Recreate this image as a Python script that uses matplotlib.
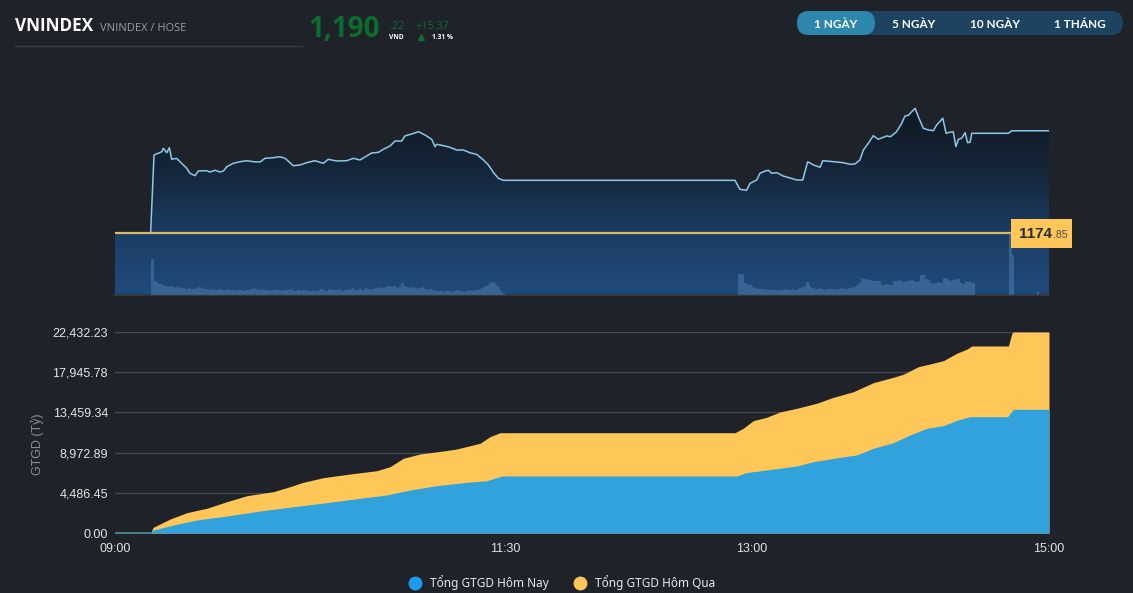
import numpy as np
import matplotlib
matplotlib.use("Agg")
import matplotlib.pyplot as plt
from matplotlib.patches import FancyBboxPatch, Rectangle, PathPatch
from matplotlib.path import Path
from matplotlib.lines import Line2D
from matplotlib.colors import LinearSegmentedColormap
from matplotlib.transforms import IdentityTransform

# ---------------- data ----------------
# time in minutes after 09:00
REF_PRICE = 1174.85
price_t = [13.7, 15.0, 18.0, 18.6, 19.9, 20.9, 21.8, 23.7, 25.6, 27.6,
           28.8, 30.8, 32.0, 35.3, 36.5, 38.5, 40.4, 41.7, 43.0, 45.5,
           48.1, 50.7, 53.2, 55.8, 57.7, 60.9, 63.5, 65.4, 68.6, 71.2,
           73.7, 76.9, 80.1, 82.0, 85.3, 89.1, 91.7, 94.2, 96.8, 98.7,
           101.3, 103.2, 105.8, 107.7, 110.3, 111.5, 114.1, 116.7, 119.2, 121.8,
           123.1, 123.7, 126.3, 128.8, 131.4, 134.0, 136.5, 139.1, 141.7, 143.6,
           145.5, 147.4, 149.3,
           233.8, 235.6, 238.0, 239.3, 241.9, 243.2, 245.3, 246.6, 248.0, 250.0,
           252.6, 255.4, 258.1, 260.5, 262.5, 264.8, 267.5, 268.6, 271.5, 274.2,
           276.9, 279.6, 281.6, 283.6, 285.0, 287.0, 289.0, 291.0, 294.4, 296.0,
           298.4, 300.5, 301.8, 303.2, 304.5, 305.9, 307.2, 309.2, 311.3, 313.3,
           314.6, 317.1, 318.4, 320.0, 321.3, 322.4, 323.4, 324.7, 326.1, 327.1,
           328.1, 328.8, 343.6, 345.0, 360.0]
price_v = [1174.85, 1186.58, 1187.07, 1187.59, 1186.92, 1187.68, 1185.93, 1186.08, 1185.33, 1184.58,
           1183.83, 1183.47, 1184.17, 1184.22, 1184.02, 1184.28, 1184.02, 1184.17, 1184.82, 1185.33,
           1185.57, 1185.72, 1185.57, 1185.53, 1186.08, 1186.17, 1186.32, 1186.08, 1184.97, 1185.08,
           1185.42, 1185.72, 1185.33, 1185.93, 1185.68, 1185.72, 1186.08, 1185.83, 1186.43, 1186.88,
           1186.98, 1187.44, 1187.93, 1188.68, 1188.68, 1189.44, 1189.74, 1190.08, 1189.59, 1188.94,
           1187.83, 1188.19, 1187.98, 1187.74, 1187.33, 1187.33, 1186.92, 1186.68, 1185.83, 1185.08,
           1183.98, 1183.08, 1182.77,
           1182.77, 1181.42, 1181.27, 1182.32, 1182.82, 1183.83, 1184.17, 1184.28, 1183.83, 1183.92,
           1183.42, 1183.12, 1182.82, 1182.82, 1185.57, 1185.08, 1184.73, 1185.72, 1185.63, 1185.53,
           1185.42, 1185.18, 1185.23, 1185.83, 1187.33, 1188.34, 1189.48, 1188.94, 1189.44, 1189.33,
           1190.08, 1191.35, 1192.44, 1192.55, 1193.09, 1193.60, 1192.34, 1190.59, 1190.34, 1190.23,
           1191.09, 1192.10, 1189.84, 1190.00, 1190.08, 1187.83, 1188.94, 1189.09, 1189.93, 1188.43,
           1188.49, 1189.84, 1189.84, 1190.22, 1190.22]

# per-minute volume (relative units)
vol_am_start = 14
vol_am = [36,
          14, 12, 11, 10, 9, 8, 9, 8, 7, 8,
          7, 7, 6, 7, 6, 6, 7, 8, 7, 6,
          6, 5, 6, 5, 5, 6, 5, 5, 6, 5,
          5, 4, 5, 5, 4, 5, 5, 6, 7, 6,
          5, 6, 5, 5, 4, 5, 6, 5, 5, 4,
          5, 5, 6, 5, 4, 5, 4, 5, 5, 4,
          4, 5, 4, 5, 6, 5, 4, 6, 5, 5,
          5, 6, 4, 5, 5, 6, 7, 5, 5, 6,
          5, 7, 6, 5, 6, 7, 8, 7, 6, 8,
          9, 8, 9, 7, 8, 12, 9, 8, 7, 8,
          7, 6, 7, 8, 6, 5, 6, 5, 4, 4,
          4, 3, 4, 4, 3, 4, 5, 4, 4, 3,
          4, 5, 4, 5, 5, 6, 7, 9, 10, 12,
          13, 11, 8, 4, 2]
vol_pm_start = 235
vol_pm = [21, 21, 12, 10, 10, 8, 7, 6, 6, 6,
          5, 6, 5, 5, 5, 4, 5, 5, 6, 5,
          5, 6, 5, 6, 7, 8, 9,
          13, 9, 7, 6, 6, 7, 6, 5, 6, 6,
          6, 5, 6, 6, 7, 6, 6, 7, 7, 8,
          9, 12, 17, 16, 16, 15, 15, 14, 14, 14,
          10, 10, 11, 10, 10, 14, 14, 15, 14, 13,
          14, 14, 15, 14, 13, 14, 20, 20, 16, 15,
          12, 11, 12, 13, 12, 17, 17, 15, 14, 15,
          16, 16, 12, 11, 14, 13, 13, 12]
vol_close_t = [344, 345, 355]
vol_close = [62, 40, 3]

# cumulative trading value (ty VND)
yest_t = [0, 13.7, 14.7, 21.2, 27.6, 35.3, 43.0, 50.7, 60.9, 67.3,
          72.4, 80.1, 90.4, 100.7, 105.8, 110.9, 117.3, 126.3, 131.4, 140.4,
          144.2, 148.1, 233.8, 236.8, 240.5, 245.9, 251.3, 258.1, 266.1, 272.9,
          281.0, 289.0, 297.1, 301.1, 307.2, 311.9, 317.3, 322.7, 326.7, 328.8,
          343.6, 345.0, 345.6, 360]
yest_v = [0, 0, 636, 1562, 2266, 2757, 3493, 4163, 4609, 5167,
          5658, 6172, 6584, 6953, 7399, 8337, 8817, 9151, 9374, 10011,
          10747, 11194, 11194, 11685, 12533, 12912, 13504, 13917, 14475, 15145,
          15770, 16774, 17377, 17712, 18560, 18861, 19229, 20055, 20501, 20870,
          20870, 22286, 22432.23, 22432.23]
today_t = [0, 13.7, 14.7, 23.7, 31.4, 43.0, 55.8, 68.6, 81.4, 94.2,
           104.5, 113.5, 123.7, 134.0, 143.0, 148.7, 234.6, 237.7, 245.9, 258.1,
           264.8, 275.6, 282.3, 289.0, 297.1, 303.8, 310.6, 317.3, 324.0, 328.1,
           343.3, 345.6, 360]
today_v = [0, 0, 335, 971, 1451, 1897, 2455, 2935, 3382, 3873,
           4241, 4799, 5279, 5614, 5837, 6361, 6361, 6730, 7031, 7477,
           7957, 8449, 8705, 9453, 10078, 10937, 11685, 11976, 12690, 12981,
           12981, 13806, 13806]

yticks = [0.00, 4486.45, 8972.89, 13459.34, 17945.78, 22432.23]
ytick_labels = ['0.00', '4,486.45', '8,972.89', '13,459.34', '17,945.78', '22,432.23']
xticks = [0, 150, 240, 360]
xtick_labels = ['09:00', '11:30', '13:00', '15:00']
legend_labels = ['Tổng GTGD Hôm Nay', 'Tổng GTGD Hôm Qua']
buttons = ['1 NGÀY', '5 NGÀY', '10 NGÀY', '1 THÁNG']

# ---------------- figure ----------------
plt.rcParams['font.family'] = ['Liberation Sans', 'DejaVu Sans']
W, H = 1133, 593
fig = plt.figure(figsize=(W / 100, H / 100), dpi=100)
BG = '#1f2229'
fig.patch.set_facecolor(BG)
IT = IdentityTransform()


def rect(l, t, r, b):
    return [l / W, 1 - b / H, (r - l) / W, (b - t) / H]


def ptext(x, y, s, **kw):
    return fig.text(x, H - y, s, transform=IT, **kw)


TK = [0, 150, 240, 360]
PK = [0, 390, 637, 934]


def fwd(x):
    return np.interp(x, TK, PK)


def inv(p):
    return np.interp(p, PK, TK)


# ---- top price panel ----
YLO, YHI = 1165.53, 1195.6
ax1 = fig.add_axes(rect(115, 95, 1049, 295))
ax1.set_facecolor('none')
ax1.set_xscale('function', functions=(fwd, inv))
cmap = LinearSegmentedColormap.from_list('g', [(0.0, '#1f4b7b'), (0.31, '#1b3d63'),
                                               (0.6, '#15273c'), (1.0, '#0f141b')])
verts = [(0, YLO), (0, REF_PRICE)] + list(zip(price_t, price_v)) + [(360, YLO), (0, YLO)]
clip = PathPatch(Path(verts), transform=ax1.transData, fc='none', ec='none')
ax1.add_patch(clip)
grad = np.linspace(0, 1, 256).reshape(-1, 1)
im = ax1.imshow(grad, extent=[0, 360, YLO, YHI], origin='lower', aspect='auto',
                cmap=cmap, zorder=0, interpolation='bilinear')
im.set_clip_path(clip)
ax1.plot(price_t, price_v, color='#8cc8e8', lw=1.1, zorder=3)
ax1.axhline(REF_PRICE, color='#d9bd6a', lw=1.6, zorder=4)
ax1.set_xlim(0, 360)
ax1.set_ylim(YLO, YHI)
for s in ['top', 'left', 'right']:
    ax1.spines[s].set_visible(False)
ax1.spines['bottom'].set_color('#33373e')
ax1.spines['bottom'].set_linewidth(1.5)
ax1.set_xticks([])
ax1.set_yticks([])

ax1v = ax1.twinx()
ax1v.set_ylim(0, 200)
am_t = np.arange(vol_am_start, vol_am_start + len(vol_am))
pm_t = np.arange(vol_pm_start, vol_pm_start + len(vol_pm))
for tt, vv in [(am_t, vol_am), (pm_t, vol_pm), (vol_close_t, vol_close)]:
    ax1v.bar(tt, vv, width=1.0, align='edge', color='#4f80b0', alpha=0.5, lw=0,
             antialiased=False)
ax1v.set_xlim(0, 360)
for s in ax1v.spines.values():
    s.set_visible(False)
ax1v.set_yticks([])
ax1v.set_xticks([])

# price label
bx, by = ax1.transData.transform((344.6, REF_PRICE))
fig.add_artist(Rectangle((bx, by - 14.5), 61, 29, transform=IT, fc='#ffc65a', ec='none', zorder=10))
main_s, dec_s = f'{REF_PRICE:.2f}'.split('.')
fig.text(bx + 8, by - 4.5, main_s, transform=IT, fontsize=11, fontweight='bold',
         color='#2b2b2b', va='baseline', zorder=11)
fig.text(bx + 42, by - 4.5, '.' + dec_s, transform=IT, fontsize=7.5,
         color='#4d4d4d', va='baseline', zorder=11)

# ---- bottom cumulative panel ----
upp = 22432.23 / 201
ax2 = fig.add_axes(rect(115, 331.5, 1049, 533.5))
ax2.set_facecolor('none')
ax2.set_xscale('function', functions=(fwd, inv))
ax2.fill_between(yest_t, yest_v, 0, color='#ffc658', lw=0, zorder=2)
ax2.fill_between(today_t, today_v, 0, color='#31a2dc', lw=0, zorder=3)
ax2.plot(today_t[:2], today_v[:2], color='#4f8a9c', lw=1.2, zorder=4)
ax2.set_xlim(0, 360)
ax2.set_ylim(-0.5 * upp, 22432.23 + 0.5 * upp)
ax2.set_yticks(yticks)
ax2.set_yticklabels(ytick_labels)
ax2.set_xticks(xticks)
ax2.set_xticklabels(xtick_labels)
ax2.grid(axis='y', color='#45484f', lw=1)
ax2.set_axisbelow(True)
for s in ax2.spines.values():
    s.set_visible(False)
ax2.tick_params(axis='y', length=0, pad=5, labelcolor='#e4e4e4', labelsize=9)
ax2.tick_params(axis='x', length=0, pad=7, labelcolor='#e4e4e4', labelsize=9)
ax2.set_ylabel('GTGD (Tỷ)', color='#8b8e94', fontsize=9)
ax2.yaxis.set_label_coords(-0.0756, 0.44)

handles = [Line2D([], [], marker='o', ls='', color='#1a9bef', markersize=9),
           Line2D([], [], marker='o', ls='', color='#ffc658', markersize=9)]
fig.legend(handles, legend_labels, loc='center', bbox_to_anchor=(559 / W, 1 - 583 / H),
           ncol=2, frameon=False, labelcolor='#e8e8e8', handletextpad=0.3, columnspacing=1.6,
           prop={'family': ['Noto Sans', 'DejaVu Sans'], 'size': 8.5})

# ---- header ----
ptext(15, 31, 'VNINDEX', fontsize=12.3, fontweight='bold', color='white', va='baseline',
      family=['Open Sans', 'DejaVu Sans'])
ptext(100, 30.7, 'VNINDEX / HOSE', fontsize=8, color='#9a9da3', va='baseline',
      family=['Open Sans', 'DejaVu Sans'])
fig.add_artist(Line2D([15, 302], [H - 46, H - 46], transform=IT, color='#3a3d44', lw=1))
GREEN = '#0b6e2d'
ptext(308, 37.3, '1,190', fontsize=20, fontweight='bold', color=GREEN, va='baseline',
      family=['Open Sans', 'DejaVu Sans'])
ptext(389, 28.7, '.22', fontsize=7.8, color=GREEN, va='baseline', family=['Open Sans', 'DejaVu Sans'])
ptext(389, 38.7, 'VND', fontsize=4.8, fontweight='bold', color='white', va='baseline',
      family=['Open Sans', 'DejaVu Sans'])
ptext(415, 28.7, '+15.37', fontsize=7.8, color=GREEN, va='baseline', family=['Open Sans', 'DejaVu Sans'])
fig.add_artist(Line2D([421], [H - 37], transform=IT, marker='^', color=GREEN, markersize=5, ls=''))
ptext(432, 38.7, '1.31 %', fontsize=4.8, fontweight='bold', color='white', va='baseline',
      family=['Open Sans', 'DejaVu Sans'])

# buttons
fig.add_artist(FancyBboxPatch((797, H - 35), 326, 24, boxstyle='round,pad=0,rounding_size=12',
                              transform=IT, fc='#1c4461', ec='none'))
fig.add_artist(FancyBboxPatch((797, H - 35), 78, 24, boxstyle='round,pad=0,rounding_size=12',
                              transform=IT, fc='#2d87ad', ec='none'))
for cx, lab in zip([836, 914, 995, 1080], buttons):
    ptext(cx, 27.5, lab, fontsize=8.5, fontweight='bold', color='white', ha='center', va='baseline',
          family=['Lato', 'DejaVu Sans'])

fig.savefig('out.png', dpi=100, facecolor=BG)
